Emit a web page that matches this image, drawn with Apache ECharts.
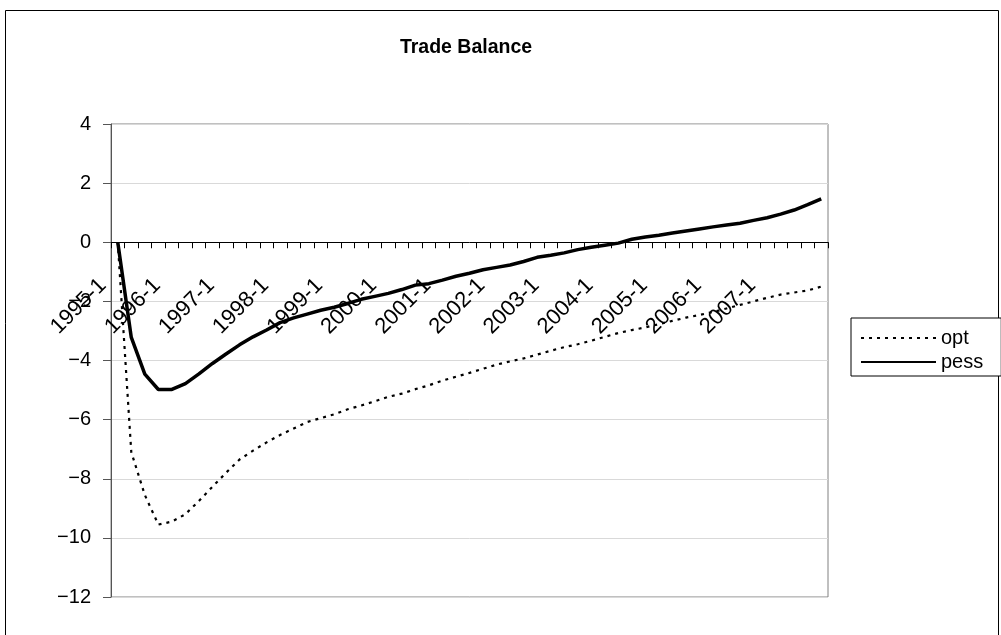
<!DOCTYPE html>
<html>
<head>
<meta charset="utf-8">
<title>Trade Balance</title>
<script src="https://cdn.jsdelivr.net/npm/echarts@6/dist/echarts.min.js"></script>
<style>
  html, body { margin: 0; padding: 0; background: #fff; }
  #chart { width: 1001px; height: 635px; }
</style>
</head>
<body>
<div id="chart"></div>
<script>
// Quarterly periods, 1995-1 through 2008-1
const firstYear = 1995;
const lastYear = 2008;
const quarters = [];
for (let y = firstYear; y <= lastYear; y++) {
  for (let q = 1; q <= 4; q++) {
    if (y === lastYear && q > 1) break;
    quarters.push(y + '-' + q);
  }
}

// Trade balance, optimistic scenario
const opt = [
  0, -7.1, -8.55, -9.55, -9.45, -9.2, -8.75, -8.27, -7.8, -7.35,
  -7.05, -6.77, -6.52, -6.3, -6.08, -5.95, -5.82, -5.65, -5.52, -5.38,
  -5.23, -5.12, -4.97, -4.84, -4.68, -4.55, -4.42, -4.28, -4.14, -4.03,
  -3.93, -3.8, -3.67, -3.55, -3.45, -3.33, -3.2, -3.07, -2.97, -2.88,
  -2.77, -2.66, -2.55, -2.46, -2.36, -2.24, -2.12, -2.0, -1.88, -1.77,
  -1.7, -1.63, -1.5
];

// Trade balance, pessimistic scenario
const pess = [
  0, -3.22, -4.46, -4.98, -4.98, -4.78, -4.45, -4.1, -3.78, -3.47,
  -3.2, -2.97, -2.72, -2.56, -2.43, -2.3, -2.2, -2.07, -1.93, -1.83,
  -1.73, -1.6, -1.45, -1.4, -1.28, -1.15, -1.05, -0.93, -0.85, -0.77,
  -0.65, -0.51, -0.44, -0.36, -0.25, -0.17, -0.1, -0.03, 0.1, 0.18,
  0.24, 0.31, 0.38, 0.45, 0.52, 0.58, 0.64, 0.74, 0.83, 0.95,
  1.09, 1.27, 1.47
];

const yMin = -12;
const yMax = 4;
const yStep = 2;

const FONT = "'Liberation Sans', Arial, sans-serif";

// plot box
const W = 1001, H = 635;
const gridLeft = 111, gridRight = 173, gridTop = 124, gridBottom = 38;
const plotH = H - gridTop - gridBottom;
// the category axis crosses the value axis at 0
const zeroShift = -((0 - yMin) / (yMax - yMin)) * plotH;

const chart = echarts.init(document.getElementById('chart'), null, { renderer: 'canvas' });

chart.setOption({
  animation: false,
  backgroundColor: '#ffffff',
  textStyle: { fontFamily: FONT, color: '#000' },
  graphic: [
    {
      type: 'rect',
      shape: { x: 5.5, y: 10.5, width: 993, height: 640 },
      style: { fill: 'none', stroke: '#000', lineWidth: 1 },
      silent: true,
      z: -10
    }
  ],
  title: {
    text: 'Trade Balance',
    left: 461,
    top: 33,
    textAlign: 'center',
    textStyle: { fontFamily: FONT, fontSize: 19.5, fontWeight: 'bold', color: '#000' }
  },
  legend: {
    orient: 'vertical',
    left: 851,
    top: 318,
    padding: [10, 18, 4, 9],
    itemGap: 4,
    itemWidth: 75,
    itemHeight: 10,
    borderColor: '#000',
    borderWidth: 1,
    backgroundColor: '#fff',
    itemStyle: { color: 'rgba(0,0,0,0)', borderWidth: 0 },
    textStyle: { fontFamily: FONT, fontSize: 20, color: '#000' },
    data: ['opt', 'pess']
  },
  grid: {
    left: gridLeft,
    right: gridRight,
    top: gridTop,
    bottom: gridBottom,
    containLabel: false,
    outerBoundsMode: 'none',
    show: true,
    borderColor: '#808080',
    borderWidth: 1
  },
  xAxis: {
    type: 'category',
    data: quarters,
    boundaryGap: true,
    position: 'bottom',
    offset: zeroShift,
    axisLine: { onZero: false, lineStyle: { color: '#000', width: 1 } },
    axisTick: { show: true, interval: 0, length: 6, lineStyle: { color: '#000' } },
    axisLabel: {
      interval: 3,
      showMaxLabel: false,
      rotate: 45,
      margin: 25,
      fontFamily: FONT,
      fontSize: 22,
      color: '#000',
      padding: [0, 21, 0, 0]
    },
    splitLine: { show: false }
  },
  yAxis: {
    type: 'value',
    min: yMin,
    max: yMax,
    interval: yStep,
    axisLine: { show: true, lineStyle: { color: '#555', width: 1 } },
    axisTick: { show: true, length: 8, lineStyle: { color: '#555' } },
    axisLabel: {
      margin: 20,
      fontFamily: FONT,
      fontSize: 20,
      color: '#000',
      formatter: v => String(v).replace('-', '\u2212')
    },
    splitLine: { show: true, lineStyle: { color: '#d9d9d9', width: 1 } }
  },
  series: [
    {
      name: 'opt',
      type: 'line',
      data: opt,
      symbol: 'none',
      lineStyle: { color: '#000', width: 2.2, type: [3, 5] },
      itemStyle: { color: '#000' },
      z: 2
    },
    {
      name: 'pess',
      type: 'line',
      data: pess,
      symbol: 'none',
      lineStyle: { color: '#000', width: 3.5 },
      itemStyle: { color: '#000' },
      z: 3
    }
  ]
});
</script>
</body>
</html>
